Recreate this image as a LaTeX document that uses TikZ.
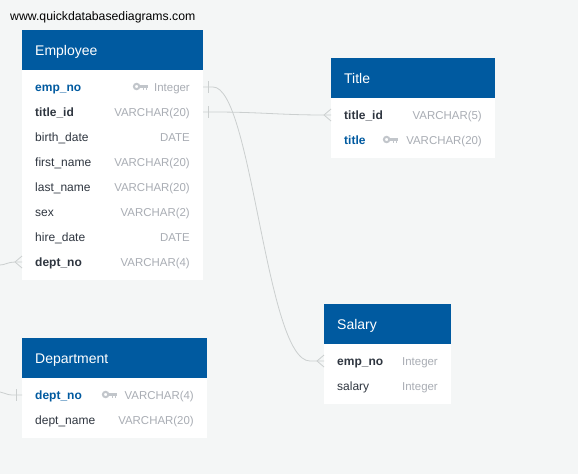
\documentclass[tikz,border=0pt]{standalone}
\usepackage{fontspec}
\setmainfont{Liberation Sans}
\definecolor{bgc}{HTML}{F4F6F6}
\definecolor{hdr}{HTML}{005AA0}
\definecolor{ink}{HTML}{2F3640}
\definecolor{typec}{HTML}{A9ADB4}
\definecolor{keyc}{HTML}{C2C6CB}
\definecolor{linec}{HTML}{CBCFCF}
\tikzset{
  x=1pt,y=-1pt,
  tablebody/.style={fill=white,draw=none,inner sep=0pt,outer sep=0pt,anchor=north west},
  tablehead/.style={fill=hdr,draw=none,text=white,inner sep=0pt,outer sep=0pt,anchor=north west,font=\fontsize{14}{16}\selectfont,text height=10pt,text depth=3pt},
  headlabel/.style={text=white,inner sep=0pt,anchor=base west,font=\fontsize{14}{16}\selectfont},
  fieldname/.style={text=ink,inner sep=0pt,anchor=base west,font=\fontsize{12}{14}\selectfont},
  keyname/.style={fieldname,text=hdr,font=\fontsize{12}{14}\selectfont\bfseries},
  fkname/.style={fieldname,font=\fontsize{12}{14}\selectfont\bfseries},
  fieldtype/.style={text=typec,inner sep=0pt,anchor=base east,font=\fontsize{11.45}{14}\selectfont},
  rel/.style={draw=linec,line width=0.8pt},
  keyicon/.style={draw=keyc,line width=2pt}
}
\newcommand{\tablebox}[6]{% name, x, y, w, bodyheight, title
  \node[tablebody,minimum width=#4pt,minimum height=#5pt] (#1body) at (#2,#3+40) {};
  \node[tablehead,minimum width=#4pt,minimum height=40pt] (#1head) at (#2,#3) {};
  \node[headlabel] (#1title) at (#2+13,#3+25) {#6};
}
\newcommand{\keysym}[2]{% x, y (left end, centre)
  \draw[keyicon] (#1+3.6,#2) circle (2.7);
  \fill[keyc] (#1+6.5,#2-1.6) rectangle (#1+15,#2+1.2);
  \fill[keyc] (#1+9.5,#2) rectangle (#1+11.3,#2+3.4);
  \fill[keyc] (#1+12.6,#2) rectangle (#1+14.4,#2+3.4);
}
\begin{document}
\begin{tikzpicture}
\useasboundingbox[fill=bgc] (0,0) rectangle (578,474);
\node[inner sep=0pt,anchor=base west,text=black,font=\fontsize{12.25}{14}\selectfont] (site) at (10,20) {www.quickdatabasediagrams.com};

% Employee
\tablebox{emp}{22}{30}{181}{210}{Employee}
\node[keyname] (e1) at (35,91) {emp\_no};
\node[fieldtype] (e1t) at (190,91) {Integer};
\keysym{133}{86.5}
\node[fkname] (e2) at (35,116) {title\_id};
\node[fieldtype] (e2t) at (190,116) {VARCHAR(20)};
\node[fieldname] (e3) at (35,141) {birth\_date};
\node[fieldtype] (e3t) at (190,141) {DATE};
\node[fieldname] (e4) at (35,166) {first\_name};
\node[fieldtype] (e4t) at (190,166) {VARCHAR(20)};
\node[fieldname] (e5) at (35,191) {last\_name};
\node[fieldtype] (e5t) at (190,191) {VARCHAR(20)};
\node[fieldname] (e6) at (35,216) {sex};
\node[fieldtype] (e6t) at (190,216) {VARCHAR(2)};
\node[fieldname] (e7) at (35,241) {hire\_date};
\node[fieldtype] (e7t) at (190,241) {DATE};
\node[fkname] (e8) at (35,266) {dept\_no};
\node[fieldtype] (e8t) at (190,266) {VARCHAR(4)};

% Title
\tablebox{tit}{331}{58}{164}{60}{Title}
\node[fkname] (t1) at (344,119) {title\_id};
\node[fieldtype] (t1t) at (482,119) {VARCHAR(5)};
\node[keyname] (t2) at (344,144) {title};
\node[fieldtype] (t2t) at (482,144) {VARCHAR(20)};
\keysym{383}{139.5}

% Salary
\tablebox{sal}{324}{304}{127}{60}{Salary}
\node[fkname] (s1) at (337,365) {emp\_no};
\node[fieldtype] (s1t) at (438,365) {Integer};
\node[fieldname] (s2) at (337,390) {salary};
\node[fieldtype] (s2t) at (438,390) {Integer};

% Department
\tablebox{dep}{22}{338}{185}{60}{Department}
\node[keyname] (d1) at (35,399) {dept\_no};
\node[fieldtype] (d1t) at (194,399) {VARCHAR(4)};
\keysym{102}{394.5}
\node[fieldname] (d2) at (35,424) {dept\_name};
\node[fieldtype] (d2t) at (194,424) {VARCHAR(20)};

% Connector ends
\coordinate (pEmpNo) at (203,87);
\coordinate (pEmpTitle) at (203,112);
\coordinate (pTitle) at (331,115);
\coordinate (pSal) at (324,361);
\coordinate (pEmpDept) at (22,262);
\coordinate (pDept) at (22,395);
\coordinate (edgeA) at (0,265);
\coordinate (edgeB) at (0,392);

% emp_no relation
\draw[rel] (pEmpNo) -- (213,87) .. controls (252,87) and (266,361) .. (310,361) -- (pSal);
\draw[rel] (208,81) -- (208,93);
\draw[rel] (317,361) -- (324,355) (317,361) -- (324,367);
% title_id relation
\draw[rel] (pEmpTitle) -- (213,112) .. controls (260,112) and (280,115) .. (324,115) -- (pTitle);
\draw[rel] (208,106) -- (208,118);
\draw[rel] (324,115) -- (331,109) (324,115) -- (331,121);
% dept_no relation (leaves the picture at the left)
\draw[rel] (edgeA) .. controls (5,265) and (8,262) .. (15,262) -- (pEmpDept);
\draw[rel] (15,262) -- (22,256) (15,262) -- (22,268);
\draw[rel] (edgeB) .. controls (4,392) and (6,395) .. (12,395) -- (pDept);
\draw[rel] (16,389) -- (16,401);
\end{tikzpicture}
\end{document}
